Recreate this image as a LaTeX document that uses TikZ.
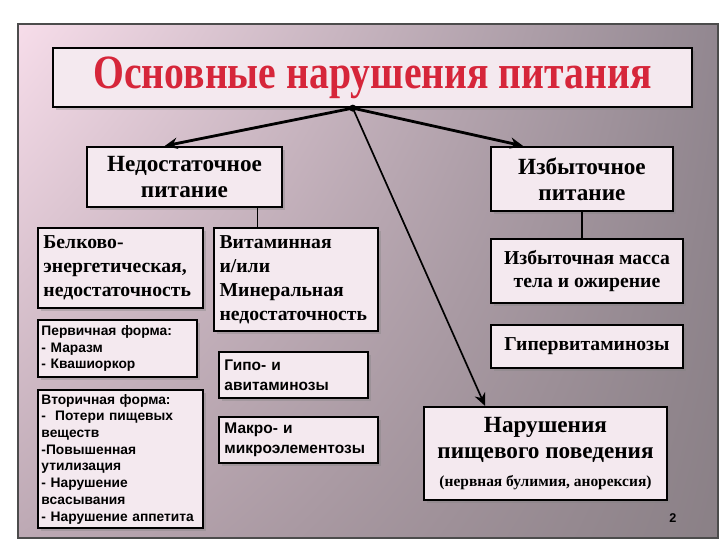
\documentclass[tikz,border=0pt]{standalone}
\usepackage{fontspec}
\setmainfont{Liberation Serif}
\setsansfont{Liberation Sans}
\newfontfamily\titlefont[FakeStretch=0.83]{Liberation Serif}
\usetikzlibrary{arrows.meta,shadows,shadings}

\definecolor{boxfill}{HTML}{F4E9EF}
\definecolor{titlered}{HTML}{D6263A}
\definecolor{bgpink}{HTML}{F7DDEA}
\definecolor{bgmauve}{HTML}{928790}
\definecolor{bglow}{HTML}{BDA9B4}
\definecolor{bgdark}{HTML}{8A8086}

\begin{document}
\begin{tikzpicture}[x=0.025cm, y=-0.025cm, >={Stealth[length=9pt,width=8pt]},
  box/.style={draw, line width=1.6pt, fill=boxfill, inner sep=4pt,
    drop shadow={shadow xshift=2pt, shadow yshift=-2pt, opacity=0.35}},
  headbox/.style={box, align=center, font=\bfseries\fontsize{16.5}{18.5}\selectfont},
  textbox/.style={box, align=left, font=\bfseries\fontsize{14}{17}\selectfont},
  listbox/.style={box, align=left, inner xsep=2.5pt, inner ysep=2pt,
    font=\sffamily\bfseries\fontsize{9.8}{11.9}\selectfont},
  smallbox/.style={box, align=left, font=\sffamily\bfseries\fontsize{11}{14}\selectfont}]
\useasboundingbox (0,0) rectangle (720,540);

% slide background
\shade[upper left=bgpink, upper right=bgmauve, lower left=bglow, lower right=bgdark]
  (18,24) rectangle (718,538);
\draw[black!70, line width=0.8pt] (18,24) rectangle (718,538);

% title
\node[box, minimum width=15.975cm, minimum height=1.475cm] (title) at (372.5,77.5)
  {\titlefont\bfseries\fontsize{34}{36}\selectfont\color{titlered}Основные нарушения питания};
\coordinate (hub) at ([xshift=-14pt]title.south);

% main branches
\node[headbox, minimum width=4.875cm, minimum height=1.5cm] (under) at (184.5,177)
  {Недостаточное\\питание};
\node[headbox, minimum width=4.55cm, minimum height=1.6cm] (over) at (582,179)
  {Избыточное\\питание};
\node[headbox, minimum width=6.075cm, minimum height=2.325cm] (eating) at (545.5,453.5)
  {Нарушения\\пищевого поведения\\[1pt]
   {\fontsize{11}{13}\selectfont(нервная булимия, анорексия)}};

% undernutrition
\node[textbox, text width=3.85cm, minimum height=2.0cm] (protein) at (120.5,268)
  {Белково-\\энергетическая,\\недостаточность};
\node[textbox, text width=3.82cm, minimum height=2.575cm] (vitmin) at (296,279.5)
  {Витаминная\\и/или\\Минеральная\\недостаточность};
\node[listbox, text width=3.8cm, minimum height=1.425cm] (primary) at (117.5,348.5)
  {Первичная форма:\\- Маразм\\- Квашиоркор};
\node[listbox, text width=3.95cm, minimum height=3.45cm] (secondary) at (120.5,459)
  {Вторичная форма:\\-~ Потери пищевых\\веществ\\-Повышенная\\утилизация\\- Нарушение\\всасывания\\\mbox{- Нарушение аппетита}};
\node[smallbox, text width=3.45cm, minimum height=1.15cm] (hypo) at (293.5,375)
  {Гипо- и\\авитаминозы};
\node[smallbox, text width=3.7cm, minimum height=1.15cm] (macro) at (298.5,440)
  {Макро- и\\микроэлементозы};

% overnutrition
\node[textbox, align=center, minimum width=4.8cm, minimum height=1.6cm] (mass) at (587,271)
  {Избыточная масса\\тела и ожирение};
\node[textbox, align=center, minimum width=4.8cm, minimum height=1.075cm] (hyper) at (587,346.5)
  {Гипервитаминозы};

\node[font=\sffamily\bfseries\fontsize{9}{9}\selectfont] (page) at (673,518) {2};

% connectors
\draw[->, line width=2pt] (hub) -- ([xshift=-14pt]under.north);
\draw[->, line width=2pt] (hub) -- ([xshift=-42pt]over.north);
\draw[->, line width=1.2pt] (hub) -- ([xshift=-43pt]eating.north);
\fill (hub) circle (3.5);
\draw[line width=0.8pt] ([xshift=52pt]under.south) -- ([xshift=52pt]under.south |- vitmin.north);
\draw[line width=0.8pt] (over.south) -- (over.south |- mass.north);
\end{tikzpicture}
\end{document}
